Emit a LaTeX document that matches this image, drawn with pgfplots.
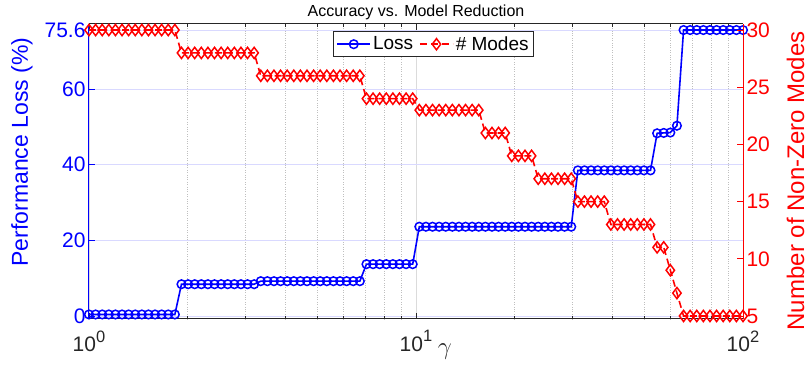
\documentclass[border=0pt]{standalone}
\usepackage{pgfplots}
\usepackage{pgfplotstable}
\pgfplotsset{compat=1.18}
\usepackage{fontspec}
\setmainfont{Liberation Sans}
\definecolor{axgray}{rgb}{0.15,0.15,0.15}
\definecolor{gridblue}{rgb}{0.85,0.85,1}
\definecolor{gridgray}{rgb}{0.86,0.86,0.86}
\definecolor{mgrid}{rgb}{0.75,0.75,0.75}
\newcommand{\tp}[1]{10\raisebox{0.47em}{\fontsize{16.5}{16.5}\selectfont #1}}

\pgfplotstableread{
x loss modes
1 0.4 30
1.04762 0.4 30
1.09750 0.4 30
1.14976 0.4 30
1.20450 0.4 30
1.26186 0.4 30
1.32194 0.4 30
1.38489 0.4 30
1.45083 0.4 30
1.51991 0.4 30
1.59228 0.4 30
1.66810 0.4 30
1.74753 0.4 30
1.83074 0.4 30
1.91791 8.4 28
2.00923 8.4 28
2.10490 8.4 28
2.20513 8.4 28
2.31013 8.4 28
2.42013 8.4 28
2.53536 8.4 28
2.65609 8.4 28
2.78256 8.4 28
2.91505 8.4 28
3.05386 8.4 28
3.19927 8.4 28
3.35160 9.2 26
3.51119 9.2 26
3.67838 9.2 26
3.85353 9.2 26
4.03702 9.2 26
4.22924 9.2 26
4.43062 9.2 26
4.64159 9.2 26
4.86260 9.2 26
5.09414 9.2 26
5.33670 9.2 26
5.59081 9.2 26
5.85702 9.2 26
6.13591 9.2 26
6.42807 9.2 26
6.73415 9.2 26
7.05480 13.7 24
7.39072 13.7 24
7.74264 13.7 24
8.11131 13.7 24
8.49753 13.7 24
8.90215 13.7 24
9.32603 13.7 24
9.77010 13.7 24
10.2353 23.6 23
10.7227 23.6 23
11.2332 23.6 23
11.7681 23.6 23
12.3285 23.6 23
12.9155 23.6 23
13.5305 23.6 23
14.1747 23.6 23
14.8497 23.6 23
15.5568 23.6 23
16.2975 23.6 21
17.0735 23.6 21
17.8865 23.6 21
18.7382 23.6 21
19.6304 23.6 19
20.5651 23.6 19
21.5443 23.6 19
22.5702 23.6 19
23.6449 23.6 17
24.7708 23.6 17
25.9502 23.6 17
27.1859 23.6 17
28.4804 23.6 17
29.8365 23.6 17
31.2572 38.5 15
32.7455 38.5 15
34.3047 38.5 15
35.9381 38.5 15
37.6494 38.5 15
39.4421 38.5 13
41.3201 38.5 13
43.2876 38.5 13
45.3488 38.5 13
47.5081 38.5 13
49.7702 38.5 13
52.1401 38.5 13
54.6228 48.3 11
57.2237 48.4 11
59.9484 48.5 9
62.8029 50.3 7
65.7933 75.6 5
68.9261 75.6 5
72.2081 75.6 5
75.6463 75.6 5
79.2483 75.6 5
83.0218 75.6 5
86.9749 75.6 5
91.1163 75.6 5
95.4548 75.6 5
100 75.6 5
}\data

\begin{document}
\begin{tikzpicture}
\begin{axis}[
  at={(0pt,0pt)}, anchor=south west,
  scale only axis, width=654pt, height=295pt,
  xmode=log, xmin=1, xmax=100,
  major tick length=6pt, minor tick length=3pt, tick align=inside,
  ticklabel style={font=\fontsize{21}{21}\selectfont},
  ymin=-0.8, ymax=77.2,
  axis x line*=box, axis y line*=left,
  x axis line style={axgray, line width=1pt, -},
  y axis line style={blue, line width=1pt, -},
  xtick={1,10,100}, xticklabels={\tp{0},\tp{1},\tp{2}},
  minor xtick={2,3,4,5,6,7,8,9,20,30,40,50,60,70,80,90},
  xtick style={axgray, line width=0.8pt},
  xticklabel style={axgray, yshift=-8pt},
  ytick={0,20,40,60,75.6}, yticklabels={0,20,40,60,75.6},
  ytick style={blue, line width=0.8pt},
  yticklabel style={blue},
  ymajorgrids, xmajorgrids, xminorgrids,
  y grid style={gridblue, line width=0.9pt},
  major x grid style={gridgray, line width=0.9pt},
  minor x grid style={mgrid, dotted, line width=0.8pt},
  title={Accuracy vs. Model Reduction},
  every axis title/.style={at={(axis description cs:0.5,1.0407)}, anchor=center, font=\fontsize{16}{16}\selectfont, text=black},
  ylabel={Performance Loss (\%)},
  every axis y label/.style={at={(axis description cs:-0.1024,0.566)}, rotate=90, anchor=center, font=\fontsize{23}{23}\selectfont, text=blue},
  xlabel={$\gamma$},
  every axis x label/.style={at={(axis description cs:0.544,-0.122)}, anchor=base, font=\fontsize{24}{24}\selectfont, text=axgray},
]
\addplot[blue, line width=1.6pt, mark=o, mark size=4.3pt, mark options={solid, line width=1.5pt}] table[x=x, y=loss] {\data};
\end{axis}
\begin{axis}[
  at={(0pt,0pt)}, anchor=south west,
  scale only axis, width=654pt, height=295pt,
  xmode=log, xmin=1, xmax=100,
  major tick length=6pt, minor tick length=3pt, tick align=inside,
  ticklabel style={font=\fontsize{21}{21}\selectfont},
  ymin=4.7354, ymax=30.529,
  axis x line=none, axis y line*=right,
  y axis line style={red, line width=1pt, -},
  ytick={5,10,15,20,25,30}, yticklabels={5,10,15,20,25,30},
  ytick style={red, line width=0.8pt},
  yticklabel style={red},
  ylabel={Number of Non-Zero Modes},
  every axis y label/.style={at={(axis description cs:1.0933,0.468)}, rotate=90, anchor=base, font=\fontsize{24}{24}\selectfont, text=red},
  legend columns=2,
  legend style={at={(axis description cs:0.373,0.976)}, anchor=north west, draw=axgray, line width=1pt, fill=white, font=\fontsize{19}{19}\selectfont, inner xsep=3pt, inner ysep=3pt, nodes={inner xsep=2pt, inner ysep=2pt}, /tikz/every even column/.append style={column sep=4pt}},
  legend image code/.code={\draw[mark repeat=2, mark phase=2, #1] plot coordinates {(0pt,0pt) (16.5pt,0pt) (33pt,0pt)};},
]
\addlegendimage{blue, line width=1.6pt, mark=o, mark size=4.3pt, mark options={solid, line width=1.5pt}}
\addlegendentry{Loss}
\addplot[red, line width=1.6pt, dash pattern=on 7pt off 4pt, mark=diamond, mark size=5.6pt, mark options={solid, line width=1.5pt}] table[x=x, y=modes] {\data};
\addlegendentry{\# Modes}
\end{axis}
\pgfresetboundingbox
\path[use as bounding box] (-89pt,-50pt) rectangle (719pt,319pt);
\end{tikzpicture}
\end{document}
